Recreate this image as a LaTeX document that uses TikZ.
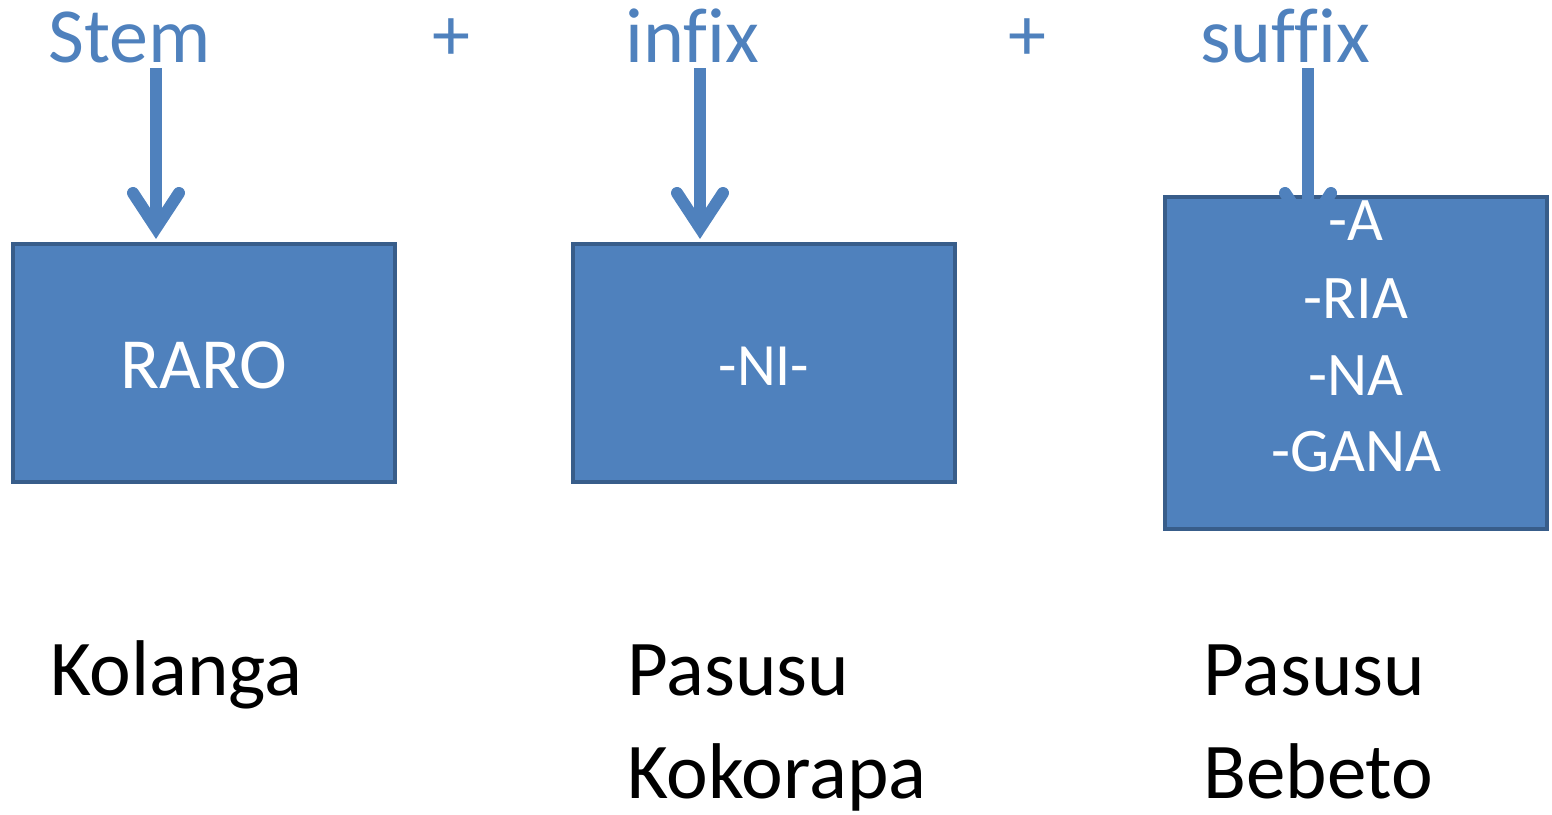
\documentclass[tikz,border=0pt]{standalone}
\usepackage{fontspec}
\setmainfont[Ligatures=NoCommon]{Carlito}
\definecolor{accent}{HTML}{4F81BD}
\definecolor{edgeblue}{HTML}{385D8A}
\begin{document}
\begin{tikzpicture}[x=1pt,y=-1pt,
  box/.style={draw=edgeblue,fill=accent,line width=4pt,minimum width=382pt,inner sep=0pt,text=white},
  head/.style={text=accent,font=\fontsize{78}{80}\selectfont,anchor=base west,inner sep=0pt},
  plus/.style={text=accent,font=\fontsize{76}{76}\selectfont,anchor=center,inner sep=0pt},
  word/.style={text=black,font=\fontsize{79}{84}\selectfont,anchor=base west,inner sep=0pt},
  suf/.style={text=white,font=\fontsize{62}{64}\selectfont,anchor=base,inner sep=0pt},
  shaft/.style={draw=accent,line width=12pt,line cap=butt},
  barb/.style={draw=accent,line width=12pt,line cap=round,line join=miter}]
\useasboundingbox (0,0) rectangle (1552,814);
% boxes
\node[box,minimum height=238pt] (b1) at (204,363) {};
\node[box,minimum height=238pt] (b2) at (764,363) {};
\node[box,minimum height=332pt] (b3) at (1356,363) {};
\node[text=white,font=\fontsize{72}{72}\selectfont,anchor=base,inner sep=0pt] (raro) at (204,388) {RARO};
\node[text=white,font=\fontsize{60}{60}\selectfont,anchor=base,inner sep=0pt] (ni) at (764,385) {-NI-};
\node[suf] (s1) at (1356,240) {-A};
\node[suf] (s2) at (1356,318) {-RIA};
\node[suf] (s3) at (1356,395) {-NA};
\node[suf] (s4) at (1356,471) {-GANA};
% headers
\node[head] (stem) at (48,62) {Stem};
\node[plus] (p1) at (451,40) {+};
\node[head] (infix) at (625,62) {infix};
\node[plus] (p2) at (1027,40) {+};
\node[head] (suffix) at (1200,62) {suffix};
% arrows
\foreach \n/\x in {1/156,2/700,3/1308}{
  \coordinate (a\n s) at (\x,68);
  \coordinate (a\n t) at (\x,228);
}
\foreach \n in {1,2,3}{
  \draw[shaft] (a\n s) -- (a\n t);
  \draw[barb] ([shift={(-23,-35)}]a\n t) -- (a\n t) -- ([shift={(23,-35)}]a\n t);
}
% words
\node[word] (kol) at (50,695) {Kolanga};
\node[word] (pas1) at (627,695) {Pasusu};
\node[word] (kok) at (627,798) {Kokorapa};
\node[word] (pas2) at (1203,695) {Pasusu};
\node[word] (beb) at (1203,798) {Bebeto};
\end{tikzpicture}
\end{document}
